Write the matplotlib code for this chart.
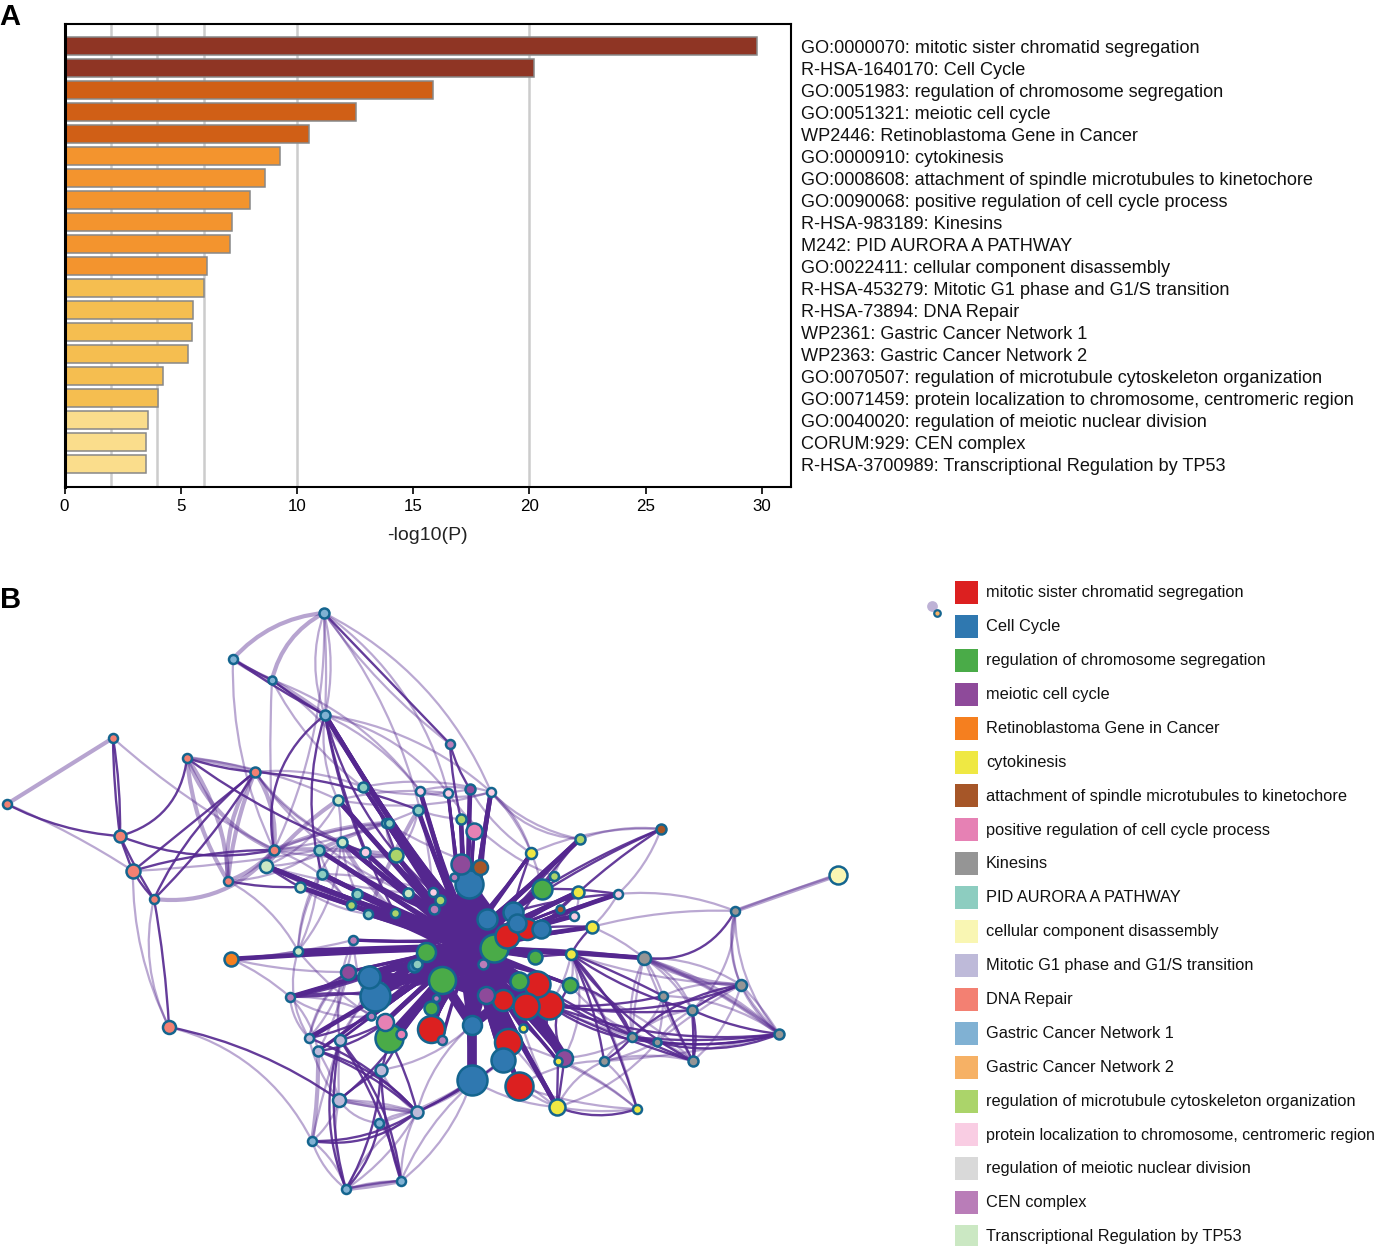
import matplotlib
matplotlib.use('Agg')
import matplotlib.pyplot as plt
from matplotlib.path import Path
from matplotlib.patches import PathPatch, Rectangle

plt.rcParams['font.family'] = ['Liberation Sans', 'DejaVu Sans']

W, H = 1382, 1246

# panel A
bar_labels = ["GO:0000070: mitotic sister chromatid segregation",
              "R-HSA-1640170: Cell Cycle",
              "GO:0051983: regulation of chromosome segregation",
              "GO:0051321: meiotic cell cycle",
              "WP2446: Retinoblastoma Gene in Cancer",
              "GO:0000910: cytokinesis",
              "GO:0008608: attachment of spindle microtubules to kinetochore",
              "GO:0090068: positive regulation of cell cycle process",
              "R-HSA-983189: Kinesins",
              "M242: PID AURORA A PATHWAY",
              "GO:0022411: cellular component disassembly",
              "R-HSA-453279: Mitotic G1 phase and G1/S transition",
              "R-HSA-73894: DNA Repair",
              "WP2361: Gastric Cancer Network 1",
              "WP2363: Gastric Cancer Network 2",
              "GO:0070507: regulation of microtubule cytoskeleton organization",
              "GO:0071459: protein localization to chromosome, centromeric region",
              "GO:0040020: regulation of meiotic nuclear division",
              "CORUM:929: CEN complex",
              "R-HSA-3700989: Transcriptional Regulation by TP53"]
bar_values = [29.8, 20.2, 15.85, 12.55, 10.5, 9.27, 8.63, 7.98, 7.2, 7.1,
              6.13, 6.0, 5.53, 5.48, 5.3, 4.24, 4.02, 3.6, 3.5, 3.5]
bar_colors = ['#8F3524'] * 2 + ['#D05F16'] * 3 + ['#F3942E'] * 6 + ['#F5BE50'] * 6 + ['#FADD8C'] * 3
grid_values = [2, 4, 6, 10, 20]

# panel B legend
terms = ["mitotic sister chromatid segregation", "Cell Cycle",
         "regulation of chromosome segregation", "meiotic cell cycle",
         "Retinoblastoma Gene in Cancer", "cytokinesis",
         "attachment of spindle microtubules to kinetochore",
         "positive regulation of cell cycle process", "Kinesins",
         "PID AURORA A PATHWAY", "cellular component disassembly",
         "Mitotic G1 phase and G1/S transition", "DNA Repair",
         "Gastric Cancer Network 1", "Gastric Cancer Network 2",
         "regulation of microtubule cytoskeleton organization",
         "protein localization to chromosome, centromeric region",
         "regulation of meiotic nuclear division", "CEN complex",
         "Transcriptional Regulation by TP53"]
term_colors = ['#DC2020', '#2F78B0', '#4AAB48', '#8E4A9A', '#F57F1F', '#EFE843', '#A65628',
               '#E681B4', '#959595', '#8DCDC0', '#F9F6B3', '#BEBAD9', '#F38072', '#80B1D3',
               '#F6B165', '#ABD46A', '#F9CDE3', '#D9D9D9', '#B97DB8', '#CBE8C3']

# network nodes (pixels)
node_x = [7, 113, 120, 133, 154, 187, 228, 255, 274, 169,
          233, 272, 324, 325, 450, 231, 838, 735, 661, 663,
          692, 741, 779, 693, 657, 644, 632, 604, 363, 338,
          386, 389, 418, 420, 448, 470, 491, 461, 474, 342,
          319, 365, 396, 266, 322, 300, 357, 351, 368, 395,
          408, 433, 440, 434, 461, 480, 454, 469, 580, 531,
          542, 554, 578, 618, 560, 574, 592, 571, 487, 513,
          517, 541, 507, 527, 494, 483, 535, 537, 519, 570,
          486, 503, 526, 549, 523, 472, 508, 503, 472, 519,
          564, 558, 557, 637, 426, 414, 417, 442, 369, 375,
          348, 290, 298, 353, 436, 431, 371, 385, 389, 401,
          431, 442, 309, 340, 318, 381, 339, 417, 312, 346,
          401, 379]
node_y = [804, 738, 836, 871, 899, 758, 881, 772, 850, 1027,
          659, 680, 613, 715, 744, 959, 875, 911, 829, 996,
          1010, 985, 1034, 1061, 1042, 958, 1037, 1061, 787, 800,
          823, 823, 810, 791, 793, 789, 792, 819, 831, 842,
          850, 852, 855, 866, 874, 887, 894, 905, 914, 913,
          893, 892, 900, 909, 864, 867, 877, 884, 839, 853,
          889, 876, 892, 894, 909, 916, 927, 954, 919, 912,
          923, 929, 936, 929, 948, 964, 957, 984, 981, 985,
          995, 1000, 1006, 1005, 1028, 1025, 1042, 1060, 1080, 1086,
          1058, 1061, 1107, 1109, 952, 966, 964, 980, 977, 996,
          972, 997, 951, 940, 998, 1008, 1016, 1022, 1038, 1034,
          1029, 1040, 1038, 1040, 1051, 1070, 1100, 1112, 1141, 1189,
          1181, 1123]
node_r = [4.5, 4.5, 6, 7, 4.5, 4.5, 4.5, 5, 5, 6.5,
          4.5, 4, 5, 5, 4.5, 7, 9, 4.5, 5, 4.5,
          5, 5.5, 5, 5, 4, 6.5, 4.5, 4.5, 5, 5,
          4.5, 4.5, 5, 4.5, 4.5, 5, 4.5, 5, 8, 5,
          5, 5, 7, 6.5, 5, 5, 5, 4.5, 4.5, 4.5,
          5, 4.5, 5, 5, 10, 7.5, 4, 14, 5, 5.5,
          10, 4.5, 6, 4.5, 4, 4.5, 6, 5.5, 10, 10,
          9, 9, 12, 10.5, 14, 5, 7, 13, 9, 7.5,
          8.5, 10.5, 13, 14, 4, 9.5, 13.5, 12, 15, 14,
          8.5, 4, 8, 4.5, 9.5, 6, 5, 13.5, 11, 15,
          7.5, 4.5, 4.5, 4.5, 3.5, 7, 4, 8.5, 14, 5,
          13.5, 4.5, 4.5, 5.5, 5, 6, 6.5, 6, 4.5, 4.5,
          4.5, 4.5]
node_term = [12, 12, 12, 12, 12, 12, 12, 12, 12, 12,
             13, 13, 13, 13, 18, 4, 10, 8, 6, 8,
             8, 8, 8, 8, 8, 8, 8, 8, 9, 19,
             9, 9, 9, 16, 16, 3, 16, 15, 7, 19,
             9, 16, 15, 19, 9, 19, 9, 15, 9, 15,
             19, 16, 15, 18, 3, 6, 18, 1, 15, 5,
             2, 15, 5, 16, 6, 16, 5, 5, 1, 1,
             1, 1, 0, 0, 2, 18, 2, 0, 2, 2,
             3, 0, 0, 0, 5, 1, 0, 1, 1, 0,
             3, 5, 5, 5, 2, 1, 9, 2, 1, 1,
             3, 18, 19, 18, 18, 2, 18, 7, 2, 7,
             0, 18, 11, 11, 11, 11, 11, 11, 13, 13,
             13, 13]

# heavy edges that get bundled through the middle of the network
hub_edges = [(57, 88), (57, 85), (57, 86), (57, 87), (57, 89), (54, 88), (54, 86), (54, 85), (55, 85),
             (55, 87), (38, 88), (38, 85), (37, 85), (37, 86), (35, 85), (35, 88), (34, 88), (34, 87),
             (36, 88), (36, 86), (33, 85), (33, 89), (32, 86), (32, 82), (29, 74), (28, 72), (28, 83),
             (39, 68), (39, 82), (41, 73), (41, 81), (40, 69), (40, 77), (44, 71), (44, 82), (45, 74),
             (45, 83), (46, 72), (46, 81), (47, 70), (47, 77), (48, 74), (48, 82), (49, 73), (49, 83),
             (50, 68), (50, 81), (51, 72), (51, 86), (52, 74), (52, 87), (53, 68), (53, 89), (42, 72),
             (42, 83), (30, 71), (30, 77), (31, 70), (31, 82), (43, 71), (43, 76), (15, 74), (15, 67),
             (15, 76), (100, 74), (100, 72), (98, 72), (98, 77), (98, 73), (99, 82), (99, 83), (99, 81),
             (94, 83), (94, 73), (97, 73), (97, 71), (97, 77), (108, 68), (108, 70), (110, 69), (110, 73),
             (106, 70), (106, 71), (109, 72), (107, 71), (107, 69), (105, 69), (104, 68), (111, 74),
             (58, 97), (58, 99), (59, 94), (59, 108), (60, 97), (60, 110), (61, 99), (62, 98), (62, 110),
             (63, 99), (63, 108), (66, 97), (66, 98), (65, 94), (65, 99), (64, 97), (67, 94), (67, 99),
             (25, 97), (25, 94), (79, 97), (79, 94), (77, 98), (83, 99), (83, 94), (82, 108), (81, 110),
             (90, 97), (90, 74), (91, 99), (92, 72), (92, 57), (89, 74), (86, 74), (86, 57), (87, 74),
             (88, 74), (88, 94), (85, 74), (102, 94), (102, 74), (103, 73), (103, 68), (101, 97),
             (101, 68), (13, 57), (13, 54), (13, 68), (113, 74), (112, 68), (114, 94),
             (29, 72), (29, 81), (28, 74), (39, 70), (39, 77), (41, 72), (41, 86), (40, 74), (40, 83),
             (44, 74), (44, 78), (45, 72), (45, 81), (46, 74), (46, 79), (47, 72), (48, 70), (49, 74),
             (50, 74), (51, 74), (52, 78), (42, 74), (42, 81), (30, 74), (30, 80), (31, 68), (31, 74),
             (32, 74), (32, 72), (33, 74), (34, 74), (36, 74), (37, 74), (38, 74), (43, 74), (13, 72),
             (13, 70), (13, 74), (99, 74), (99, 68), (99, 72), (98, 74), (98, 68), (98, 85), (108, 72),
             (108, 74), (110, 74), (110, 72), (105, 74), (107, 74), (109, 74), (106, 74), (106, 72),
             (60, 94), (60, 99), (60, 98), (59, 97), (59, 99), (58, 94), (61, 97), (62, 97), (62, 94),
             (63, 97), (64, 99), (66, 94), (71, 98), (71, 94), (73, 99), (69, 94), (77, 94), (82, 94),
             (82, 97), (81, 94), (78, 99), (83, 97), (77, 97), (89, 97), (89, 57), (86, 94), (86, 97),
             (87, 57), (92, 74), (92, 85), (90, 57), (91, 94), (84, 57)]
hub_widths = [3.4, 2.4, 2.0]
hub_pull = [0.88, 0.72, 0.8]

# very thick edges near the middle, drawn straight
trunk_edges = [(57, 85), (85, 88), (57, 74), (57, 97), (57, 94), (97, 85), (99, 94), (98, 97), (74, 85), (74, 97),
               (81, 85), (80, 97), (110, 57), (108, 97), (74, 86), (57, 72), (68, 97), (94, 72), (105, 57), (81, 57),
               (82, 74), (90, 74), (86, 57)]

# dark edges around the rim, (from, to, bend)
rim_edges = [(0, 2, .07), (1, 2, -.03), (1, 2, .02), (2, 4, .02), (2, 3, .02), (3, 4, .04), (3, 7, 0), (4, 7, .04),
             (4, 7, -.08), (3, 8, -.05), (2, 8, .1), (5, 2, -.22), (5, 7, .04), (5, 41, .05), (7, 32, -.05), (6, 45, .04),
             (43, 45, .02), (45, 49, .06), (43, 49, .04), (4, 9, -.02), (9, 116, -.07), (10, 13, .02), (10, 11, .02),
             (11, 13, .02), (13, 8, .2), (13, 49, .05), (13, 41, .04), (13, 44, .1), (13, 42, -.05), (13, 51, .1),
             (12, 14, 0), (14, 35, .05), (14, 37, .03),
             (112, 117, -.08), (114, 117, -.06), (114, 117, -.1), (113, 120, -.1), (113, 120, -.06), (115, 116, .03),
             (119, 113, -.12), (119, 113, -.08), (119, 121, .1), (118, 117, .15), (118, 117, .1), (108, 117, -.04),
             (117, 88, .03), (117, 87, .04), (115, 109, .06), (116, 109, .05), (115, 108, .03), (113, 107, .05),
             (112, 106, .05), (114, 107, .1), (119, 115, .08), (120, 115, -.05),
             (101, 99, -.05), (101, 97, .03), (101, 100, .08), (101, 94, .05),
             (25, 67, .02), (25, 74, .02), (67, 19, -.02), (67, 20, .06), (67, 26, -.04), (67, 27, -.05), (67, 23, .08),
             (83, 20, .04), (83, 22, .08), (83, 21, .09), (83, 19, .05), (21, 20, .05), (21, 26, .1), (20, 22, .05),
             (26, 22, .08), (26, 22, .04), (24, 22, .06), (24, 22, .11), (27, 26, .06), (19, 23, .02), (23, 20, .02),
             (23, 20, .08), (93, 67, .04), (92, 93, .12), (92, 91, 0), (92, 90, .02), (83, 24, .1), (83, 23, .03),
             (79, 26, -.2), (90, 79, -.2), (90, 83, -.2), (77, 23, .03), (77, 24, .08), (66, 67, .05), (63, 71, .05),
             (63, 60, .03), (63, 69, .04), (63, 72, .03), (62, 71, .04), (18, 60, .03), (18, 69, .03), (18, 71, .04),
             (58, 72, .03), (58, 69, .02), (59, 72, .03), (66, 73, .03), (67, 76, .01), (65, 73, .04), (17, 25, -.22)]

# paler edges, (from, to, bend)
pale_edges = [(0, 3, -.03), (1, 8, .04), (3, 9, .08), (4, 9, .12), (9, 118, -.15), (12, 13, .12), (12, 13, -.08),
              (12, 13, -.02), (10, 8, .08), (11, 8, .02), (12, 8, -.08), (12, 36, -.12), (12, 34, -.12), (12, 14, .05),
              (12, 51, -.1), (11, 33, -.1), (11, 30, -.1), (13, 36, -.1), (13, 33, -.08), (13, 34, -.12), (13, 29, .1),
              (11, 28, .08), (7, 28, -.08), (7, 39, .1), (7, 41, .1), (7, 50, .1), (5, 29, -.06), (8, 32, .05), (8, 30, -.05),
              (8, 42, .05), (8, 47, -.1), (6, 40, .1), (6, 102, -.1), (43, 39, .1), (43, 29, .12), (43, 50, .03), (3, 40, .02),
              (15, 102, .02), (15, 103, .03), (15, 100, .04), (15, 101, -.05), (102, 40, .08), (102, 44, -.08), (102, 29, .15),
              (102, 39, -.12), (101, 112, .12), (101, 114, -.1), (102, 112, .15), (103, 113, .1), (103, 112, -.1),
              (100, 114, -.05), (100, 112, .1), (100, 113, .1), (101, 106, .12), (101, 107, -.1), (102, 106, .05),
              (103, 106, .05), (112, 100, -.12), (113, 98, .05), (113, 99, -.1),
              (116, 118, -.1), (118, 119, -.1), (118, 119, .1), (120, 119, .02), (119, 120, -.03), (119, 120, -.05),
              (119, 117, .08), (119, 117, -.1), (120, 117, -.08), (120, 121, .1), (117, 121, .1), (116, 121, .15), (116, 117, .03),
              (116, 117, -.05), (115, 117, .1), (112, 116, .08), (114, 116, -.05), (113, 116, .02), (113, 118, .02), (116, 119, .1),
              (120, 88, .1), (120, 87, -.1), (117, 85, -.1), (117, 87, .06), (121, 88, .05), (115, 85, .1),
              (16, 17, .01), (63, 17, -.08), (66, 17, -.05), (17, 20, -.15), (17, 22, .12), (17, 22, .2),
              (17, 21, .12), (25, 21, -.1), (25, 22, -.08), (25, 22, -.05), (25, 19, -.05), (25, 20, -.08), (25, 20, -.14),
              (25, 23, .03), (25, 26, .1), (21, 22, .05), (21, 22, -.04), (21, 19, .1), (21, 23, -.1), (21, 24, .03),
              (20, 24, .08), (20, 26, .1), (22, 19, .1), (22, 27, -.03), (23, 27, .08), (23, 26, .1), (26, 27, .1),
              (26, 19, .12), (26, 25, -.03), (27, 24, .05), (24, 19, .05), (93, 27, .1), (92, 27, -.12), (93, 92, -.05),
              (92, 24, .1), (83, 26, .03), (79, 24, .1), (90, 26, .08), (79, 23, -.08), (89, 27, -.1), (90, 67, .15),
              (18, 58, .08), (18, 63, -.08), (18, 59, .08), (58, 61, .1), (58, 36, -.1), (59, 36, .1), (36, 60, -.1),
              (36, 58, .15), (35, 59, .08), (34, 61, .1), (33, 36, .1), (33, 35, -.08), (28, 36, -.08), (28, 35, .08),
              (29, 34, -.06), (29, 36, .08), (30, 42, .1), (32, 42, -.1), (32, 37, .05), (30, 55, .03), (39, 41, .1),
              (39, 46, .06), (40, 47, .08), (44, 51, -.05), (45, 48, .08), (65, 62, .1), (66, 63, .05), (66, 25, -.05),
              (67, 21, .05), (67, 93, -.05), (79, 67, .1), (83, 67, .08), (84, 92, .03), (89, 92, .05), (86, 92, -.05),
              (87, 92, .04), (88, 92, .08), (89, 93, .05), (91, 93, -.05), (86, 93, -.08)]

# the pale edges drawn wider
wide_pale_edges = [(0, 1, 0), (10, 12, -.13), (11, 12, -.15), (10, 11, .04), (11, 13, -.02), (5, 7, -.03), (5, 8, .14),
                   (5, 6, -.1), (5, 6, .08), (7, 8, -.12), (7, 6, .05), (7, 6, .12), (4, 8, .18), (6, 8, .08), (8, 43, .05),
                   (29, 43, .05), (39, 49, .05), (8, 42, -.03), (39, 42, .15), (32, 48, .03), (30, 40, .03), (30, 8, .06), (16, 17, 0),
                   (21, 25, -.08), (22, 25, .05), (119, 120, .02), (114, 118, -.03), (116, 117, .01)]

edge_color = '#54278F'
border_color = '#14658F'
hub = (466, 945)

fig = plt.figure(figsize=(W / 100, H / 100), dpi=100)


def px_rect(left, top, right, bottom):
    return [left / W, 1 - bottom / H, (right - left) / W, (bottom - top) / H]


# A
ax = fig.add_axes(px_rect(64.5, 24, 791, 487))
ypos = list(range(len(bar_values)))
for g in grid_values:
    ax.axvline(g, color='#CCCCCC', lw=1.8, zorder=1)
ax.barh(ypos, bar_values, height=0.8, color=bar_colors, edgecolor='#888888', lw=1.1, zorder=2)
ax.set_ylim(20.05, -1.0)
ax.set_xlim(0, 31.25)
ax.set_yticks([])
ax.set_xticks([0, 5, 10, 15, 20, 25, 30])
ax.tick_params(axis='x', labelsize=12.2, length=5, width=1.2, pad=4)
ax.set_xlabel('-log10(P)', fontsize=14, labelpad=9, color='#222222')
for s in ax.spines.values():
    s.set_linewidth(1.5)
ax.spines['left'].set_linewidth(2.2)
for y, lab in zip(ypos, bar_labels):
    ax.annotate(lab, xy=(1, y), xycoords=('axes fraction', 'data'), xytext=(7.5, -0.7),
                textcoords='offset points', va='center_baseline', fontsize=13.05, color='#111111')

# B
net = fig.add_axes([0, 0, 1, 1], zorder=-1)
net.set_xlim(0, W)
net.set_ylim(H, 0)
net.axis('off')


def curve(p0, c0, c1, p1):
    return Path([p0, c0, c1, p1], [Path.MOVETO, Path.CURVE4, Path.CURVE4, Path.CURVE4])


def bent_path(a, b, bend):
    x0, y0, x1, y1 = node_x[a], node_y[a], node_x[b], node_y[b]
    nx, ny = -(y1 - y0) * bend, (x1 - x0) * bend
    return curve((x0, y0), (x0 + (x1 - x0) * .33 + nx, y0 + (y1 - y0) * .33 + ny),
                 (x0 + (x1 - x0) * .67 + nx, y0 + (y1 - y0) * .67 + ny), (x1, y1))


def hub_path(a, b, k):
    x0, y0, x1, y1 = node_x[a], node_y[a], node_x[b], node_y[b]
    return curve((x0, y0), (x0 + (hub[0] - x0) * k, y0 + (hub[1] - y0) * k),
                 (x1 + (hub[0] - x1) * k, y1 + (hub[1] - y1) * k), (x1, y1))


for a, b, bend in pale_edges:
    net.add_patch(PathPatch(bent_path(a, b, bend), fc='none', ec=edge_color, alpha=0.4, lw=1.6, zorder=1))
for a, b, bend in wide_pale_edges:
    net.add_patch(PathPatch(bent_path(a, b, bend), fc='none', ec=edge_color, alpha=0.42, lw=3, zorder=1))
for a, b, bend in rim_edges:
    net.add_patch(PathPatch(bent_path(a, b, bend), fc='none', ec=edge_color, alpha=0.9, lw=1.7, zorder=2))
for i, (a, b) in enumerate(hub_edges):
    net.add_patch(PathPatch(hub_path(a, b, hub_pull[i % 3]), fc='none', ec=edge_color, lw=hub_widths[i % 3], zorder=2))
for a, b in trunk_edges:
    net.add_patch(PathPatch(bent_path(a, b, 0), fc='none', ec=edge_color, lw=7, zorder=2))

order = sorted(range(len(node_x)), key=lambda i: -node_r[i])
for z, i in enumerate(order):
    net.scatter(node_x[i], node_y[i], s=(2 * node_r[i] * 0.72) ** 2, c=term_colors[node_term[i]],
                edgecolors=border_color, linewidths=1.8, zorder=3 + z * 0.01)

# legend
net.scatter([932], [606], s=60, color='#BEB2D6', linewidths=0, zorder=3)
net.scatter([937], [613], s=22, c=term_colors[14], edgecolors=border_color, linewidths=1.6, zorder=4)
for i, (term, col) in enumerate(zip(terms, term_colors)):
    yc = 592.5 + i * 33.9
    net.add_patch(Rectangle((955, yc - 11.5), 23, 23, fc=col, ec='none', zorder=3))
    size = 11.55 if i == 16 else 11.75
    net.text(986, yc - 1.3, term, va='center_baseline', ha='left', fontsize=size, color='#111111')

fig.text(-1 / W, 1 - 25 / H, 'A', fontsize=21, fontweight='bold', va='baseline', ha='left')
fig.text(0 / W, 1 - 608 / H, 'B', fontsize=21, fontweight='bold', va='baseline', ha='left')

fig.savefig('out.png', dpi=100)
